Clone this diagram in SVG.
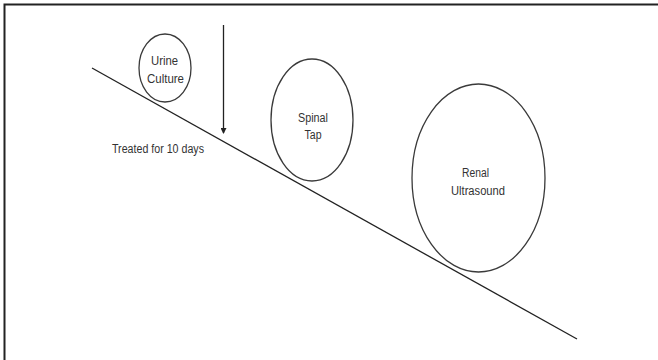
<svg xmlns="http://www.w3.org/2000/svg" width="658" height="360" viewBox="0 0 658 360">
<style>
.node{fill:none;stroke:#3a3a3a;stroke-width:1.3}
.lbl{font-family:"Liberation Sans",Arial,sans-serif;font-size:12.5px;fill:#333;text-anchor:middle}
.edge{stroke:#222;stroke-width:1.3;fill:none}
</style>
<defs>
<marker id="ah" markerWidth="6" markerHeight="6" refX="5" refY="3" orient="auto" markerUnits="userSpaceOnUse">
<path d="M0,0 L6,3 L0,6 z" fill="#222"/>
</marker>
</defs>
<rect width="658" height="360" fill="#fff"/>
<path d="M4.5,360 V4.5 H658" fill="none" stroke="#222" stroke-width="2"/>
<g id="connectors">
<line class="edge" x1="92" y1="68" x2="577" y2="339"/>
<line class="edge" x1="223.5" y1="25" x2="223.5" y2="133" marker-end="url(#ah)"/>
</g>
<g id="urine-culture">
<ellipse class="node" cx="165" cy="68" rx="26" ry="34"/>
<text class="lbl" x="164.5" y="65" textLength="27" lengthAdjust="spacingAndGlyphs">Urine</text>
<text class="lbl" x="165.5" y="83" textLength="37" lengthAdjust="spacingAndGlyphs">Culture</text>
</g>
<g id="spinal-tap">
<ellipse class="node" cx="312" cy="120" rx="41" ry="61"/>
<text class="lbl" x="313" y="122" textLength="30" lengthAdjust="spacingAndGlyphs">Spinal</text>
<text class="lbl" x="313" y="139" textLength="17" lengthAdjust="spacingAndGlyphs">Tap</text>
</g>
<g id="renal-ultrasound">
<ellipse class="node" cx="478.5" cy="178" rx="66.5" ry="94"/>
<text class="lbl" x="475.5" y="177" textLength="27" lengthAdjust="spacingAndGlyphs">Renal</text>
<text class="lbl" x="478" y="195" textLength="54" lengthAdjust="spacingAndGlyphs">Ultrasound</text>
</g>
<g id="treated">
<text class="lbl" x="158" y="153" textLength="92" lengthAdjust="spacingAndGlyphs">Treated for 10 days</text>
</g>
</svg>
